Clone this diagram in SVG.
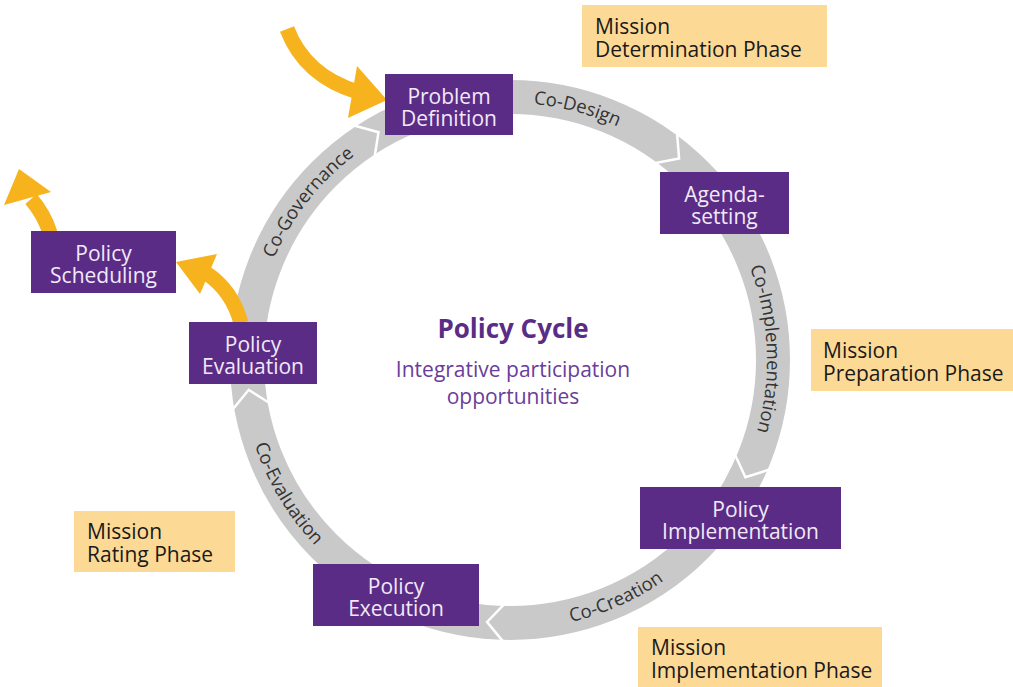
<svg xmlns="http://www.w3.org/2000/svg" width="1013" height="687" viewBox="0 0 1013 687">
<style>
.box{fill:#5b2c86}
.bt{font-family:"Open Sans","Noto Sans",sans-serif;font-size:21px;fill:#f1e9f8;text-anchor:middle}
.ph{fill:#fdd996}
.pt{font-family:"Open Sans","Noto Sans",sans-serif;font-size:21px;fill:#1a1a1a}
.lbl{font-family:"Open Sans","Noto Sans",sans-serif;font-size:18.5px;fill:#333333}
.chev{fill:none;stroke:#ffffff;stroke-width:2.5;stroke-linejoin:miter}
.org{fill:#f6b31e}
.orgs{fill:none;stroke:#f6b31e;stroke-width:15;stroke-linecap:butt}
</style>
<defs>
<path id="pDesign" d="M 401.4 127.1 A 257 257 0 0 1 720.5 212.6"/>
<path id="pImpl" d="M 699.5 186.4 A 257 257 0 0 1 713.9 516.5"/>
<path id="pCreat" d="M 435.9 618.6 A 269 269 0 0 0 751.8 477.9"/>
<path id="pEval" d="M 244.3 317.9 A 269 269 0 0 0 422.4 614.3"/>
<path id="pGov" d="M 253.2 369.0 A 257 257 0 0 1 456.6 108.6"/>
</defs>
<rect width="1013" height="687" fill="#ffffff"/>
<g id="connectors">
<circle cx="510" cy="360" r="263" fill="none" stroke="#c9c9c9" stroke-width="34"/>
<polyline class="chev" points="354.9,125.7 378.5,132.2 374.8,155.7"/>
<polyline class="chev" points="677.1,134.1 679.1,158.5 655.7,163.0"/>
<polyline class="chev" points="768.7,469.8 745.4,477.3 735.5,455.7"/>
<polyline class="chev" points="502.6,640.9 487.1,622.0 503.6,604.9"/>
<polyline class="chev" points="233.3,408.8 248.7,389.8 268.7,402.5"/>
<text class="lbl"><textPath href="#pDesign" startOffset="50%" text-anchor="middle">Co-Design</textPath></text>
<text class="lbl"><textPath href="#pImpl" startOffset="50%" text-anchor="middle">Co-Implementation</textPath></text>
<text class="lbl"><textPath href="#pCreat" startOffset="50%" text-anchor="middle">Co-Creation</textPath></text>
<text class="lbl"><textPath href="#pEval" startOffset="50%" text-anchor="middle">Co-Evaluation</textPath></text>
<text class="lbl"><textPath href="#pGov" startOffset="50%" text-anchor="middle">Co-Governance</textPath></text>
<path class="orgs" d="M 287 29 Q 305 76 358 92"/>
<polygon class="org" points="387,100 357,66 348,118"/>
<path class="orgs" d="M 241 323 Q 232 290 206 273"/>
<polygon class="org" points="176,262 217,254 200,294"/>
<path class="orgs" d="M 50 233 Q 44 214 31 199"/>
<polygon class="org" points="19,169 4,205 51,192"/>
</g>
<g id="center">
<text x="513" y="338" text-anchor="middle" font-family="Open Sans, Noto Sans, sans-serif" font-size="26" font-weight="bold" fill="#5b2c86">Policy Cycle</text>
<text x="513" y="377" text-anchor="middle" font-family="Open Sans, Noto Sans, sans-serif" font-size="21" fill="#6a3d9a">Integrative participation<tspan x="513" dy="27">opportunities</tspan></text>
</g>
<g id="problem-definition">
<rect class="box" x="385" y="74" width="128" height="61"/>
<text class="bt" x="449" y="103.5">Problem<tspan x="449" dy="22">Definition</tspan></text>
</g>
<g id="agenda-setting">
<rect class="box" x="660" y="172" width="129" height="62"/>
<text class="bt" x="724.5" y="202">Agenda-<tspan x="724.5" dy="22">setting</tspan></text>
</g>
<g id="policy-implementation">
<rect class="box" x="640" y="487" width="201" height="62"/>
<text class="bt" x="740.5" y="517">Policy<tspan x="740.5" dy="22">Implementation</tspan></text>
</g>
<g id="policy-execution">
<rect class="box" x="313" y="564" width="166" height="62"/>
<text class="bt" x="396" y="594">Policy<tspan x="396" dy="22">Execution</tspan></text>
</g>
<g id="policy-evaluation">
<rect class="box" x="189" y="322" width="128" height="62"/>
<text class="bt" x="253" y="352">Policy<tspan x="253" dy="22">Evaluation</tspan></text>
</g>
<g id="policy-scheduling">
<rect class="box" x="31" y="231" width="145" height="62"/>
<text class="bt" x="103.5" y="261">Policy<tspan x="103.5" dy="22">Scheduling</tspan></text>
</g>
<g id="mission-determination">
<rect class="ph" x="582" y="5" width="245" height="62"/>
<text class="pt" x="595" y="34">Mission<tspan x="595" dy="23">Determination Phase</tspan></text>
</g>
<g id="mission-preparation">
<rect class="ph" x="811" y="329" width="202" height="62"/>
<text class="pt" x="823" y="358">Mission<tspan x="823" dy="23">Preparation Phase</tspan></text>
</g>
<g id="mission-rating">
<rect class="ph" x="74" y="511" width="161" height="61"/>
<text class="pt" x="87" y="539">Mission<tspan x="87" dy="23">Rating Phase</tspan></text>
</g>
<g id="mission-implementation">
<rect class="ph" x="638" y="627" width="244" height="60"/>
<text class="pt" x="651" y="655">Mission<tspan x="651" dy="23">Implementation Phase</tspan></text>
</g>
</svg>
